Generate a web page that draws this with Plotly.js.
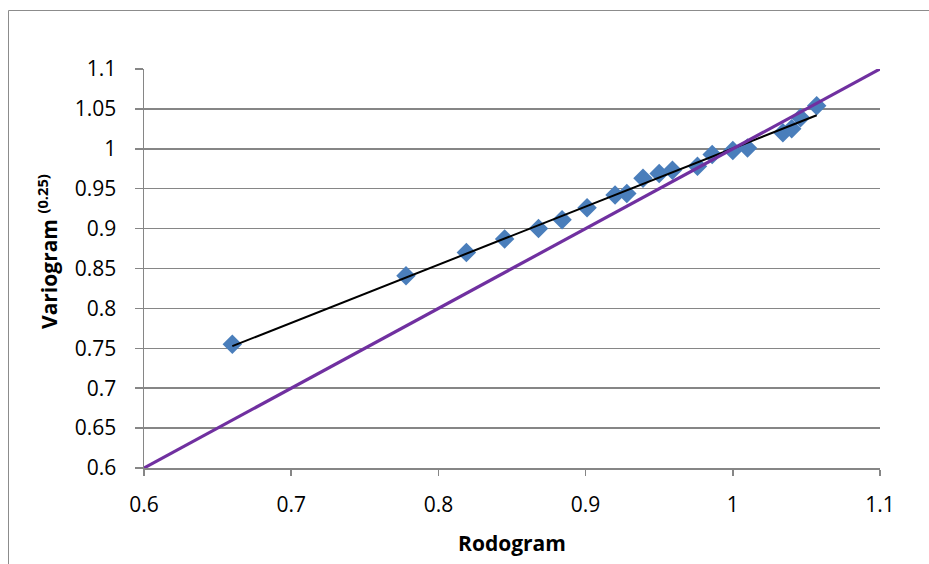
<!DOCTYPE html>
<html>
<head>
<meta charset="utf-8">
<script src="https://cdn.plot.ly/plotly-3.0.1.min.js"></script>
<style>
  html, body { margin: 0; padding: 0; background: #ffffff; }
  #chart { width: 929px; height: 564px; }
</style>
</head>
<body>
<div id="chart"></div>
<script>
// Rodogram vs. variogram (0.25) scores
const rodogram = [0.660, 0.778, 0.819, 0.845, 0.868, 0.884, 0.901, 0.920, 0.928, 0.939,
                  0.950, 0.959, 0.976, 0.986, 1.000, 1.010, 1.034, 1.040, 1.046, 1.057];
const variogram = [0.755, 0.841, 0.870, 0.887, 0.900, 0.911, 0.926, 0.942, 0.944, 0.963,
                   0.969, 0.973, 0.978, 0.993, 0.998, 1.001, 1.020, 1.025, 1.039, 1.054];

// 1:1 reference line
const identityX = [0.6, 1.1];
const identityY = [0.6, 1.1];

// Axis ticks
const xTickVals = [0.6, 0.7, 0.8, 0.9, 1.0, 1.1];
const xTickText = ['0.6', '0.7', '0.8', '0.9', '1', '1.1'];
const yTickVals = [0.6, 0.65, 0.7, 0.75, 0.8, 0.85, 0.9, 0.95, 1.0, 1.05, 1.1];
const yTickText = ['0.6', '0.65', '0.7', '0.75', '0.8', '0.85', '0.9', '0.95', '1', '1.05', '1.1'];

// Least-squares linear trend through the points
function linearFit(xs, ys) {
  const n = xs.length;
  let sx = 0, sy = 0, sxx = 0, sxy = 0;
  for (let i = 0; i < n; i++) {
    sx += xs[i]; sy += ys[i]; sxx += xs[i] * xs[i]; sxy += xs[i] * ys[i];
  }
  const slope = (n * sxy - sx * sy) / (n * sxx - sx * sx);
  const intercept = (sy - slope * sx) / n;
  return { slope, intercept };
}
const fit = linearFit(rodogram, variogram);
const trendX = [Math.min(...rodogram), Math.max(...rodogram)];
const trendY = trendX.map(v => fit.intercept + fit.slope * v);

const grey = '#868686';
const font = 'Open Sans, Liberation Sans, sans-serif';

const traces = [
  {
    x: rodogram, y: variogram, type: 'scatter', mode: 'markers',
    marker: { symbol: 'diamond', size: 15, color: '#4A7EBB', line: { width: 0 } },
    hoverinfo: 'x+y'
  },
  {
    x: trendX, y: trendY, type: 'scatter', mode: 'lines',
    line: { color: '#000000', width: 2 }, hoverinfo: 'skip'
  },
  {
    x: identityX, y: identityY, type: 'scatter', mode: 'lines',
    line: { color: '#7030A0', width: 3.2 }, hoverinfo: 'skip'
  }
];

// Outer frame (left and top edges), in paper units
const L = 144, T = 69, W = 736, H = 399;
const px2x = p => (p - L) / W;
const py2y = p => (T + H - p) / H;

const layout = {
  width: 929, height: 564,
  margin: { l: L, r: 929 - L - W, t: T, b: 564 - T - H },
  paper_bgcolor: '#ffffff', plot_bgcolor: '#ffffff',
  showlegend: false,
  font: { family: font, size: 21, color: '#000000' },
  xaxis: {
    range: [0.6, 1.1], tickvals: xTickVals, ticktext: xTickText,
    showgrid: false, zeroline: false,
    showline: true, linecolor: grey, linewidth: 1.5,
    ticks: 'outside', ticklen: 6, tickwidth: 1.5, tickcolor: grey,
    ticklabelstandoff: 11,
    tickfont: { family: font, size: 21, color: '#000000' },
    title: { text: '<b>Rodogram</b>', font: { family: font, size: 21, color: '#000000' }, standoff: 19 }
  },
  yaxis: {
    range: [0.6, 1.1], tickvals: yTickVals, ticktext: yTickText,
    showgrid: true, gridcolor: grey, gridwidth: 1.5, zeroline: false,
    showline: true, linecolor: grey, linewidth: 1.5,
    ticks: 'outside', ticklen: 8, tickwidth: 1.5, tickcolor: grey,
    ticklabelstandoff: 14,
    tickfont: { family: font, size: 21, color: '#000000' }
  },
  annotations: [
    {
      xref: 'paper', yref: 'paper', x: px2x(47), y: py2y(252),
      xanchor: 'center', yanchor: 'middle', textangle: -90, showarrow: false,
      text: '<b>Variogram <sup>(0.25)</sup></b>',
      font: { family: font, size: 21, color: '#000000' }
    }
  ],
  shapes: [
    {
      type: 'path', xref: 'paper', yref: 'paper',
      path: 'M ' + px2x(8.5) + ' ' + py2y(564) + ' L ' + px2x(8.5) + ' ' + py2y(10.5) +
            ' L ' + px2x(929) + ' ' + py2y(10.5),
      line: { color: '#8C8C8C', width: 1 }
    }
  ]
};

Plotly.newPlot('chart', traces, layout, { displayModeBar: false, staticPlot: true });
</script>
</body>
</html>
